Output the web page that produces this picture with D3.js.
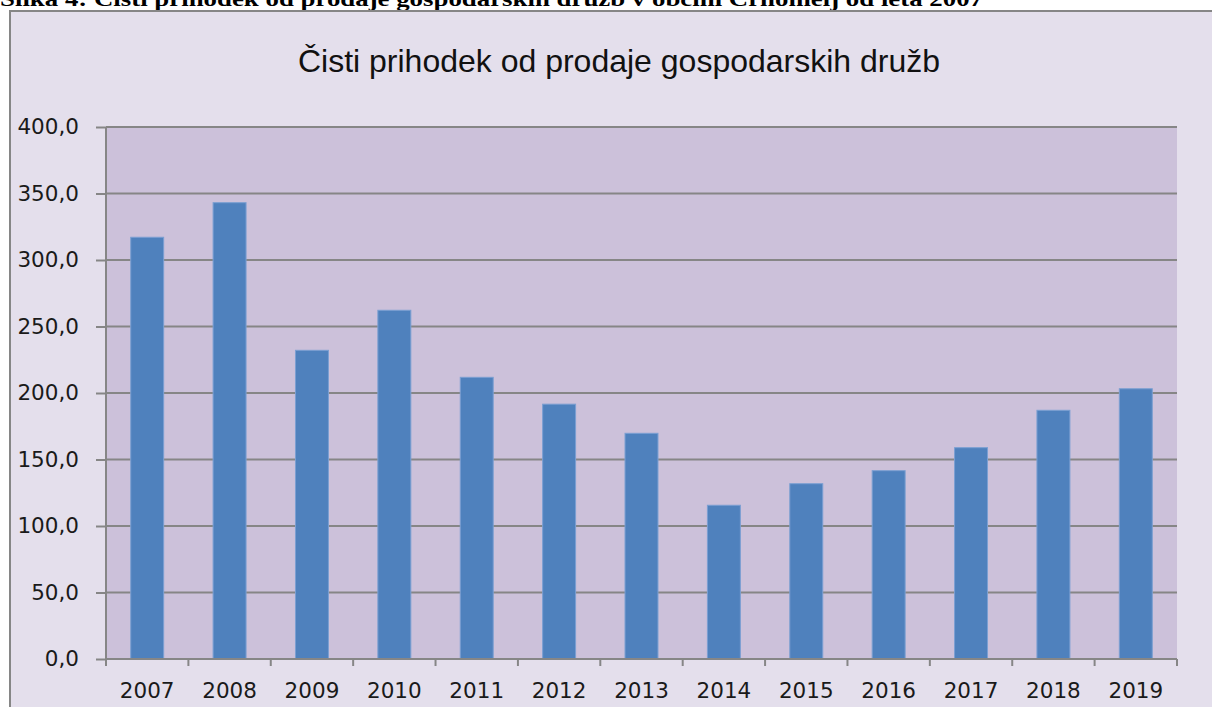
<!DOCTYPE html>
<html>
<head>
<meta charset="utf-8">
<script src="https://cdn.jsdelivr.net/npm/d3@7"></script>
<style>
  body { margin: 0; background: #fff; }
  svg { display: block; }
</style>
</head>
<body>
<svg id="chart"></svg>
<script>
// data (mio EUR)
const years = ['2007', '2008', '2009', '2010', '2011', '2012', '2013', '2014', '2015', '2016', '2017', '2018', '2019'];
const revenue = [317.1, 343.1, 232.1, 262.2, 211.8, 191.6, 169.7, 115.6, 131.8, 141.6, 158.9, 187.0, 203.2];
const yTicks = [0, 50, 100, 150, 200, 250, 300, 350, 400];
const chartTitle = 'Čisti prihodek od prodaje gospodarskih družb';
const caption = 'Slika 4: Čisti prihodek od prodaje gospodarskih družb v občini Črnomelj od leta 2007';

const W = 1212, H = 707;
const plot = { left: 106, right: 1177, top: 127, bottom: 659 };

const svg = d3.select('#chart').attr('width', W).attr('height', H);

// caption, cut off at the top like in the scan
svg.append('text')
    .attr('x', 0)
    .attr('y', 6)
    .attr('textLength', 983)
    .attr('lengthAdjust', 'spacingAndGlyphs')
    .style('font-family', '"Liberation Serif", "Times New Roman", serif')
    .style('font-weight', 'bold')
    .style('font-size', '21px')
    .style('fill', '#000')
    .text(caption);

// outer chart frame
svg.append('rect')
    .attr('x', 10).attr('y', 11)
    .attr('width', W + 20).attr('height', H + 20)
    .attr('fill', '#e4dfec')
    .attr('stroke', '#868686')
    .attr('stroke-width', 2);

svg.append('text')
    .attr('x', 619)
    .attr('y', 72)
    .attr('text-anchor', 'middle')
    .style('font-family', '"Liberation Sans", Arial, sans-serif')
    .style('font-size', '32px')
    .style('fill', '#111')
    .text(chartTitle);

const x = d3.scaleBand()
    .domain(years)
    .range([plot.left, plot.right])
    .paddingInner(0.6)
    .paddingOuter(0.3);

const y = d3.scaleLinear()
    .domain([0, 400])
    .range([plot.bottom, plot.top]);

// plot area
svg.append('rect')
    .attr('x', plot.left).attr('y', plot.top)
    .attr('width', plot.right - plot.left)
    .attr('height', plot.bottom - plot.top)
    .attr('fill', '#ccc1da');

// gridlines
svg.append('g')
    .selectAll('line')
    .data(yTicks.filter(d => d > 0))
    .enter()
    .append('line')
    .attr('x1', plot.left).attr('x2', plot.right)
    .attr('y1', d => y(d)).attr('y2', d => y(d))
    .attr('stroke', '#868686')
    .attr('stroke-width', 2);

// bars
svg.append('g')
    .selectAll('rect')
    .data(revenue)
    .enter()
    .append('rect')
    .attr('x', (d, i) => x(years[i]))
    .attr('y', d => y(d))
    .attr('width', x.bandwidth())
    .attr('height', d => y(0) - y(d))
    .attr('fill', '#4f81bd')
    .attr('stroke', '#7b9fd2')
    .attr('stroke-width', 1);

// y axis
const yAxis = svg.append('g')
    .attr('transform', `translate(${plot.left},0)`)
    .call(d3.axisLeft(y)
        .tickValues(yTicks)
        .tickSize(10)
        .tickPadding(17)
        .tickFormat(d => d3.format('.1f')(d).replace('.', ',')));

// x axis, ticks sit on category borders
const xAxis = svg.append('g')
    .attr('transform', `translate(0,${plot.bottom})`)
    .call(d3.axisBottom(x).tickSize(0).tickPadding(24));

xAxis.selectAll('.border')
    .data(d3.range(years.length + 1))
    .enter()
    .append('line')
    .attr('class', 'border')
    .attr('x1', i => plot.left + i * (plot.right - plot.left) / years.length)
    .attr('x2', i => plot.left + i * (plot.right - plot.left) / years.length)
    .attr('y1', 0).attr('y2', 7);

[yAxis, xAxis].forEach(g => {
    g.select('.domain').attr('stroke', '#868686').attr('stroke-width', 2);
    g.selectAll('line').attr('stroke', '#868686').attr('stroke-width', 2);
    g.selectAll('text')
        .style('font-family', '"DejaVu Sans", Verdana, sans-serif')
        .style('font-size', '21.5px')
        .style('fill', '#1a1a1a');
});
yAxis.select('.domain').attr('d', `M0,${plot.bottom}V${plot.top}`);
xAxis.select('.domain').attr('d', `M${plot.left},0H${plot.right}`);
</script>
</body>
</html>
